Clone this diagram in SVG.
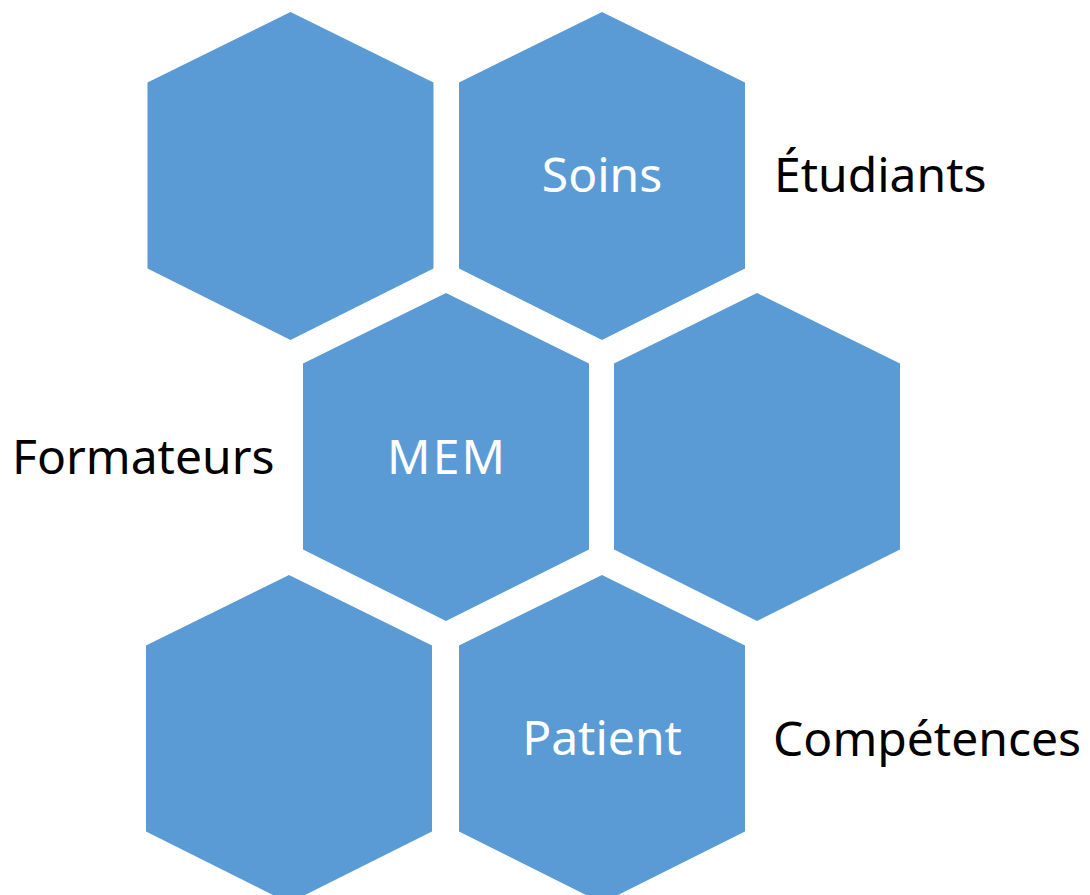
<svg xmlns="http://www.w3.org/2000/svg" width="1090" height="895" viewBox="0 0 1090 895">
<style>
.hex{fill:#5B9BD5}
.in{font-family:"Noto Sans","Open Sans",sans-serif;font-size:48px;fill:#ffffff;text-anchor:middle}
.out{font-family:"Noto Sans","Open Sans",sans-serif;font-size:48px;fill:#000000}
</style>
<defs>
<polygon id="h" points="143,0 286,70.5 286,256.5 143,328 0,256.5 0,70.5"/>
</defs>
<g id="hex-top-left"><use href="#h" class="hex" x="147.5" y="12"/></g>
<g id="hex-soins"><use href="#h" class="hex" x="459" y="12"/><text class="in" x="602" y="192">Soins</text></g>
<g id="hex-mem"><use href="#h" class="hex" x="303" y="293"/><text class="in" x="446" y="474" textLength="118">MEM</text></g>
<g id="hex-mid-right"><use href="#h" class="hex" x="614" y="293"/></g>
<g id="hex-bottom-left"><use href="#h" class="hex" x="146" y="575"/></g>
<g id="hex-patient"><use href="#h" class="hex" x="459" y="575"/><text class="in" x="602" y="755">Patient</text></g>
<g id="label-etudiants"><text class="out" x="774" y="192">Étudiants</text></g>
<g id="label-formateurs"><text class="out" x="12" y="474">Formateurs</text></g>
<g id="label-competences"><text class="out" x="773" y="756">Compétences</text></g>
<g id="connectors"/>
</svg>
